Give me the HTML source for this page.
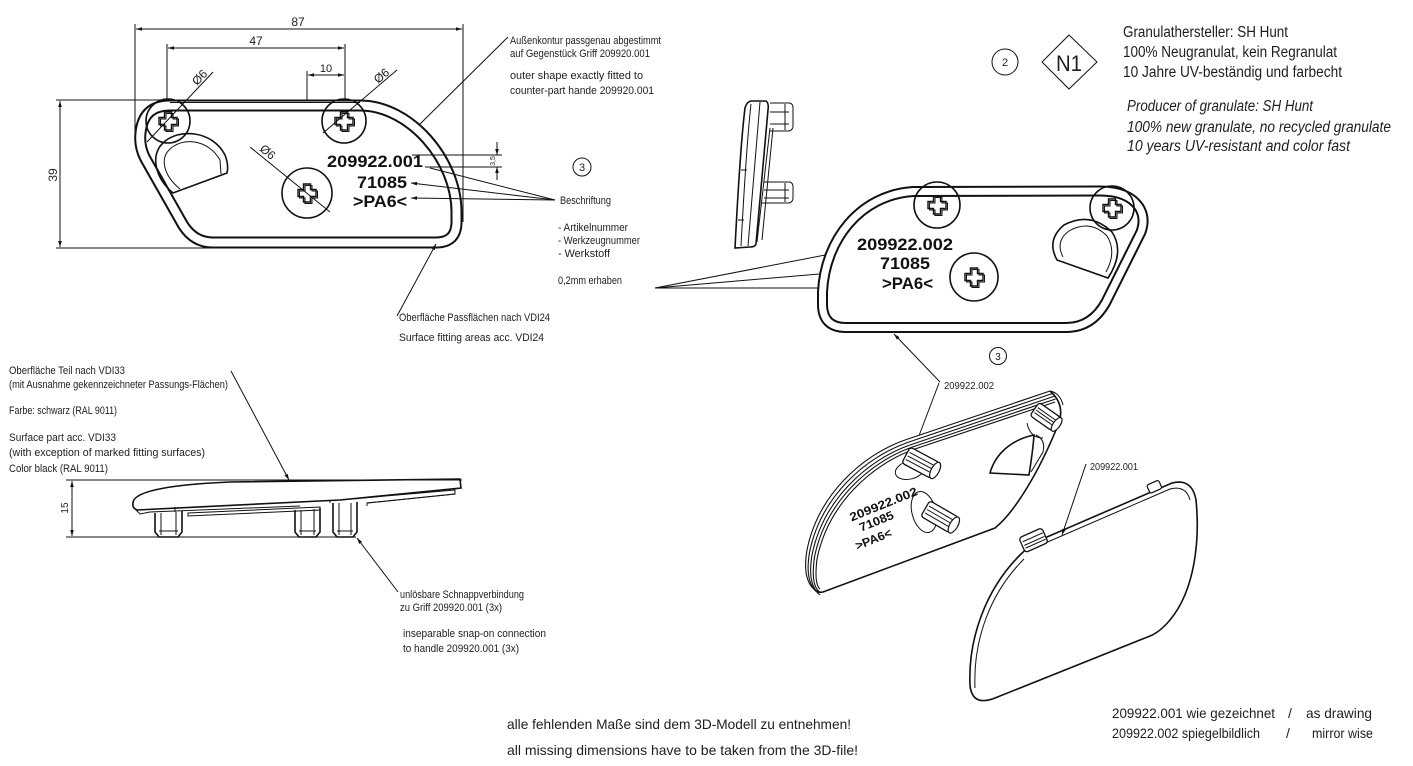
<!DOCTYPE html>
<html><head><meta charset="utf-8"><style>
html,body{margin:0;padding:0;background:#fff;}
svg{display:block;}
text{font-family:"Liberation Sans Narrow","Liberation Sans",sans-serif;fill:#1e1e1e;}
.b{font-weight:bold;fill:#111;}
.l{stroke:#111;stroke-width:1;fill:none;}
.t{stroke:#111;stroke-width:1.6;fill:none;}
</style></head><body>
<svg width="1413" height="766" viewBox="0 0 1413 766" xmlns="http://www.w3.org/2000/svg">
<defs>
<marker id="a" viewBox="0 0 10 10" refX="10" refY="5" markerWidth="9" markerHeight="6" orient="auto-start-reverse" markerUnits="userSpaceOnUse"><path d="M0,2 L10,5 L0,8 Z" fill="#111"/></marker>
<g id="cr" fill="none" stroke="#111" stroke-width="1.4">
<path d="M-3.5,-9H3.5V-3.5H9V3.5H3.5V9H-3.5V3.5H-9V-3.5H-3.5Z"/>
<path d="M-2,-7.5H5V-2H10.5V5H5V10.5H-2V5H-7.5V-2H-2Z" stroke-width="1"/>
</g>
</defs>

<!-- ========== LEFT TOP VIEW ========== -->
<g class="l">
<line x1="135" y1="24" x2="135" y2="140"/>
<line x1="463" y1="24" x2="463" y2="222"/>
<line x1="136" y1="29" x2="462" y2="29" marker-start="url(#a)" marker-end="url(#a)"/>
<line x1="167" y1="44" x2="167" y2="100"/>
<line x1="345" y1="44" x2="345" y2="112"/>
<line x1="168" y1="48" x2="344" y2="48" marker-start="url(#a)" marker-end="url(#a)"/>
<line x1="307" y1="71" x2="307" y2="218"/>
<line x1="308" y1="75" x2="344" y2="75" marker-start="url(#a)" marker-end="url(#a)"/>
<line x1="56" y1="100" x2="168" y2="100"/>
<line x1="56" y1="248" x2="212" y2="248"/>
<line x1="60" y1="101" x2="60" y2="247" marker-start="url(#a)" marker-end="url(#a)"/>
</g>
<text x="298" y="26" font-size="12" text-anchor="middle">87</text>
<text x="256" y="45" font-size="12" text-anchor="middle">47</text>
<text x="326" y="72" font-size="11" text-anchor="middle">10</text>
<text transform="translate(57,175) rotate(-90)" font-size="12" text-anchor="middle">39</text>

<path d="M170,105.5 L360,105.5 C410,105.5 456.5,160 456.5,212 L456.5,222 Q456.5,242.5 436,242.5 L213,242.5 Q194,242.5 183,225 L145,158 Q139,146 140.5,133 Q143,105.5 170,105.5 Z" fill="#fff" stroke="#111" stroke-width="12"/>
<path d="M170,105.5 L360,105.5 C410,105.5 456.5,160 456.5,212 L456.5,222 Q456.5,242.5 436,242.5 L213,242.5 Q194,242.5 183,225 L145,158 Q139,146 140.5,133 Q143,105.5 170,105.5 Z" fill="none" stroke="#fff" stroke-width="8"/>
<path d="M170,102.5 L360,102.5" class="l" stroke-width="0.8"/>

<path d="M173,193 C155,178 150,155 163,143 C178,128 212,130 225,155 Q229,165 227,173 Z" class="t" fill="#fff"/>
<path d="M180,189 C163,175 160,158 170,149 C183,137 208,139 220,160 L221,174" class="l"/>

<circle cx="168" cy="121" r="22" fill="#fff" class="t"/>
<circle cx="344" cy="121" r="22" fill="#fff" class="t"/>
<circle cx="307" cy="193" r="25" fill="#fff" class="t"/>
<use href="#cr" x="168" y="121"/>
<use href="#cr" x="344" y="121"/>
<use href="#cr" x="307" y="193"/>
<g class="l">
<line x1="147" y1="142" x2="213" y2="72"/>
<line x1="323" y1="133" x2="397" y2="70"/>
<line x1="250" y1="147" x2="330" y2="212"/>
</g>
<text transform="translate(197,86) rotate(-46)" font-size="12">Ø6</text>
<text transform="translate(378,84) rotate(-40)" font-size="12">Ø6</text>
<text transform="translate(259,150) rotate(40)" font-size="12">Ø6</text>

<text x="327" y="167" class="b" font-size="17" textLength="96" lengthAdjust="spacingAndGlyphs">209922.001</text>
<text x="357" y="188" class="b" font-size="17" textLength="50" lengthAdjust="spacingAndGlyphs">71085</text>
<text x="353" y="207" class="b" font-size="17" textLength="54" lengthAdjust="spacingAndGlyphs">&gt;PA6&lt;</text>

<g class="l">
<line x1="412" y1="155" x2="502" y2="155"/>
<line x1="425" y1="167" x2="502" y2="167"/>
<line x1="497" y1="142" x2="497" y2="155" marker-end="url(#a)"/>
<line x1="497" y1="180" x2="497" y2="167" marker-end="url(#a)"/>
</g>
<text transform="translate(495,161) rotate(-90)" font-size="7" text-anchor="middle">3,5</text>

<g class="l">
<line x1="420" y1="124" x2="508" y2="37"/>
<line x1="555" y1="200" x2="430" y2="168"/>
<line x1="555" y1="200" x2="411" y2="183" marker-end="url(#a)"/>
<line x1="555" y1="200" x2="411" y2="198" marker-end="url(#a)"/>
<line x1="397" y1="316" x2="436" y2="244" marker-end="url(#a)"/>
</g>
<text x="510" y="44" font-size="11" textLength="151" lengthAdjust="spacingAndGlyphs">Außenkontur passgenau abgestimmt</text>
<text x="510" y="57" font-size="11" textLength="140" lengthAdjust="spacingAndGlyphs">auf Gegenstück Griff 209920.001</text>
<text x="510" y="79" font-size="11" textLength="133" lengthAdjust="spacingAndGlyphs">outer shape exactly fitted to</text>
<text x="510" y="94" font-size="11" textLength="144" lengthAdjust="spacingAndGlyphs">counter-part hande 209920.001</text>

<circle cx="582" cy="167" r="9" class="l" stroke-width="1.2"/>
<text x="582" y="171" font-size="11" text-anchor="middle">3</text>
<text x="560" y="204" font-size="11" textLength="51" lengthAdjust="spacingAndGlyphs">Beschriftung</text>
<text x="558" y="231" font-size="11" textLength="70" lengthAdjust="spacingAndGlyphs">- Artikelnummer</text>
<text x="558" y="244" font-size="11" textLength="82" lengthAdjust="spacingAndGlyphs">- Werkzeugnummer</text>
<text x="558" y="257" font-size="11" textLength="52" lengthAdjust="spacingAndGlyphs">- Werkstoff</text>
<text x="558" y="284" font-size="11" textLength="64" lengthAdjust="spacingAndGlyphs">0,2mm erhaben</text>
<text x="399" y="321" font-size="11" textLength="151" lengthAdjust="spacingAndGlyphs">Oberfläche Passflächen nach VDI24</text>
<text x="399" y="341" font-size="11" textLength="145" lengthAdjust="spacingAndGlyphs">Surface fitting areas acc. VDI24</text>

<g class="l">
<line x1="655" y1="288" x2="851" y2="250"/>
<line x1="655" y1="288" x2="878" y2="269"/>
<line x1="655" y1="288" x2="874" y2="288"/>
</g>

<!-- ========== TOP RIGHT NOTES ========== -->
<circle cx="1005" cy="62" r="13" class="l" stroke-width="1.2"/>
<text x="1005" y="66" font-size="11" text-anchor="middle">2</text>
<path d="M1069,35 L1097,62 L1069,89 L1042,62 Z" class="l" stroke-width="1.3"/>
<text x="1069" y="71" font-size="22" text-anchor="middle" textLength="26" lengthAdjust="spacingAndGlyphs">N1</text>
<text x="1123" y="37" font-size="15.5" textLength="165" lengthAdjust="spacingAndGlyphs">Granulathersteller: SH Hunt</text>
<text x="1123" y="57" font-size="15.5" textLength="214" lengthAdjust="spacingAndGlyphs">100% Neugranulat, kein Regranulat</text>
<text x="1123" y="77" font-size="15.5" textLength="219" lengthAdjust="spacingAndGlyphs">10 Jahre UV-beständig und farbecht</text>
<text x="1127" y="111" font-size="15.5" font-style="italic" textLength="186" lengthAdjust="spacingAndGlyphs">Producer of granulate: SH Hunt</text>
<text x="1127" y="132" font-size="15.5" font-style="italic" textLength="264" lengthAdjust="spacingAndGlyphs">100% new granulate, no recycled granulate</text>
<text x="1127" y="151" font-size="15.5" font-style="italic" textLength="223" lengthAdjust="spacingAndGlyphs">10 years UV-resistant and color fast</text>

<!-- ========== SMALL SIDE PART ========== -->
<g class="t" stroke-width="1.4">
<path d="M735,248 C738,190 741,140 745,108 Q747,101 752,101 L766,101 Q769,103 768,110 L756,244 Q755,247 750,247 Z" fill="#fff"/>
</g>
<g class="l">
<path d="M741,246 C744,190 747,140 751,104"/>
<path d="M748,246 L760,102"/>
<path d="M757,242 L770,128"/>
<path d="M762,240 L773,128"/>
<path d="M770,103 H790 Q793,104 793,108 V127 Q792,131 788,131 H770"/>
<path d="M770,112 H789 M770,124 H789 M785,104 V130"/>
<path d="M764,182 H790 Q793,183 793,187 V199 Q792,203 788,203 H762"/>
<path d="M764,190 H789 M764,198 H789 M785,183 V202"/>
<path d="M741,170 L747,170 M738,220 L744,220"/>
</g>

<!-- ========== RIGHT TOP VIEW ========== -->
<path d="M913,191.5 L1100,191 Q1128,191 1139,207 Q1146,218 1141,232 L1106,302 Q1092,327.5 1066,327.5 L846,327.5 Q823,327.5 822.5,305 L822.5,292 C825,240 860,195 913,191.5 Z" fill="#fff" stroke="#111" stroke-width="11"/>
<path d="M913,191.5 L1100,191 Q1128,191 1139,207 Q1146,218 1141,232 L1106,302 Q1092,327.5 1066,327.5 L846,327.5 Q823,327.5 822.5,305 L822.5,292 C825,240 860,195 913,191.5 Z" fill="none" stroke="#fff" stroke-width="7"/>
<path d="M1057,260 Q1046,240 1064,225 Q1090,211 1112,232 Q1125,252 1108,278 Z" class="t" fill="#fff"/>
<path d="M1063,257 Q1055,241 1069,231 Q1090,219 1107,236 Q1117,252 1106,272" class="l"/>
<circle cx="937" cy="205" r="23" fill="#fff" class="t"/>
<circle cx="1112" cy="208" r="22" fill="#fff" class="t"/>
<circle cx="974" cy="277" r="24" fill="#fff" class="t"/>
<use href="#cr" x="937" y="205"/>
<use href="#cr" x="1112" y="208"/>
<use href="#cr" x="974" y="277"/>
<text x="857" y="250" class="b" font-size="17" textLength="96" lengthAdjust="spacingAndGlyphs">209922.002</text>
<text x="880" y="269" class="b" font-size="17" textLength="50" lengthAdjust="spacingAndGlyphs">71085</text>
<text x="882" y="289" class="b" font-size="17" textLength="51" lengthAdjust="spacingAndGlyphs">&gt;PA6&lt;</text>

<g class="l">
<line x1="940" y1="382" x2="894" y2="334" marker-end="url(#a)"/>
<line x1="939" y1="383" x2="917" y2="441"/>
</g>
<text x="944" y="389" font-size="10" textLength="50" lengthAdjust="spacingAndGlyphs">209922.002</text>
<circle cx="998" cy="356" r="8.5" class="l" stroke-width="1.2"/>
<text x="998" y="360" font-size="10" text-anchor="middle">3</text>

<!-- ========== LOWER 3D .002 ========== -->
<path d="M1050,391 L905,440 C862,455 818,495 807,550 Q802,580 815,590 L823,592 L995,528 C1015,512 1040,470 1058,425 Q1066,405 1050,391 Z" fill="#fff" stroke="none"/>
<g fill="none" stroke="#111" stroke-width="1.1">
<path d="M1050,391 L905,440 C862,455 818,495 807,550 Q802,580 815,590"/>
<path transform="translate(2.5,2.5)" d="M1050,391 L905,440 C862,455 818,495 807,550 Q802,580 815,590"/>
<path transform="translate(5,5)" d="M1050,391 L905,440 C862,455 818,495 807,550 Q802,580 815,590"/>
<path transform="translate(7.5,7)" d="M1048,392 L905,440 C862,455 818,495 807,550 Q803,578 812,585"/>
<path transform="translate(10,9)" d="M1045,393 L905,440 C862,455 818,495 807,550 Q804,575 810,580"/>
</g>
<path d="M815,590 Q818,593 823,592 L995,528 C1015,512 1040,470 1058,425 Q1066,405 1050,391" class="t"/>
<path d="M1050,391 Q1060,393 1063,405" class="l"/>
<path d="M990,473 C995,455 1010,440 1034,435 C1033,450 1031,462 1029,475 Z" class="t" fill="#fff"/>
<path d="M1036,435 Q1046,440 1043,452 L1031,472" class="l"/>
<ellipse cx="910" cy="470" rx="15" ry="9" transform="rotate(-15 910 470)" class="l" fill="#fff"/>
<g transform="translate(921,463) rotate(28)">
<rect x="-17" y="-9" width="33" height="18" rx="3" fill="#fff" stroke="#111" stroke-width="1.3"/>
<path d="M-15,-4 H14 M-15,0 H14 M-15,4 H14" class="l" stroke-width="0.8"/>
<ellipse cx="16" cy="0" rx="4" ry="9" fill="#fff" stroke="#111" stroke-width="1.2"/>
</g>
<ellipse cx="924" cy="512" rx="12" ry="21" transform="rotate(-15 924 512)" class="l" fill="#fff"/>
<g transform="translate(940,517) rotate(30)">
<rect x="-17" y="-9" width="33" height="18" rx="3" fill="#fff" stroke="#111" stroke-width="1.3"/>
<path d="M-15,-4 H14 M-15,0 H14 M-15,4 H14" class="l" stroke-width="0.8"/>
<ellipse cx="16" cy="0" rx="4" ry="9" fill="#fff" stroke="#111" stroke-width="1.2"/>
</g>
<path d="M1027,423 Q1030,438 1043,438" class="l"/>
<g transform="translate(1046,417) rotate(35)">
<rect x="-14" y="-8" width="27" height="16" rx="3" fill="#fff" stroke="#111" stroke-width="1.3"/>
<path d="M-12,-3 H11 M-12,0 H11 M-12,3 H11" class="l" stroke-width="0.8"/>
<ellipse cx="13" cy="0" rx="3.5" ry="8" fill="#fff" stroke="#111" stroke-width="1.2"/>
</g>
<text transform="translate(885,508) rotate(-22)" class="b" font-size="12" text-anchor="middle" textLength="72" lengthAdjust="spacingAndGlyphs">209922.002</text>
<text transform="translate(878,525) rotate(-22)" class="b" font-size="12" text-anchor="middle" textLength="36" lengthAdjust="spacingAndGlyphs">71085</text>
<text transform="translate(875,543) rotate(-22)" class="b" font-size="12" text-anchor="middle" textLength="38" lengthAdjust="spacingAndGlyphs">&gt;PA6&lt;</text>

<!-- ========== LOWER 3D .001 cover ========== -->
<path d="M1040,540 L1172,483 Q1192,478 1196,500 C1200,540 1195,590 1170,620 Q1160,632 1150,636 L995,698 Q972,707 970,685 C968,640 985,590 1020,555 Q1030,545 1040,540 Z" fill="#fff" class="t"/>
<path d="M1043,544 L1170,489 Q1186,485 1190,500" class="l"/>
<path d="M975,688 C973,640 990,593 1024,559" class="l"/>
<g transform="translate(1034,540) rotate(-24)">
<rect x="-13" y="-8" width="25" height="16" rx="3" fill="#fff" stroke="#111" stroke-width="1.3"/>
<path d="M-11,-3 H11 M-11,1 H11 M-11,4 H11" class="l" stroke-width="0.8"/>
</g>
<g transform="translate(1155,487) rotate(-24)">
<rect x="-7" y="-5" width="13" height="9" rx="2" fill="#fff" stroke="#111" stroke-width="1.2"/>
</g>
<line x1="1086" y1="464" x2="1062" y2="535" class="l" marker-end="url(#a)"/>
<text x="1090" y="470" font-size="10" textLength="48" lengthAdjust="spacingAndGlyphs">209922.001</text>

<!-- ========== SIDE VIEW ========== -->
<g class="l">
<line x1="66" y1="480" x2="462" y2="480"/>
<line x1="66" y1="537" x2="356" y2="537"/>
<line x1="72" y1="481" x2="72" y2="536" marker-start="url(#a)" marker-end="url(#a)"/>
</g>
<text transform="translate(68,508) rotate(-90)" font-size="10" text-anchor="middle">15</text>
<path d="M133,503 C133,493 160,485 230,482 L460,479 L461,488 L340,500 L137,510 Q132,508 133,503 Z" fill="#fff" class="t" stroke-width="1.4"/>
<g class="l">
<path d="M136,510 L140,514 L150,512 L300,506"/>
<path d="M188,513 L320,507 L320,510 L188,516 Z"/>
<path d="M340,500 L455,490 L455,494 L367,503 L367,506"/>
<path d="M367,503 L455,494"/>
<path d="M330,500 L330,503 M175,507 L175,512"/>
</g>
<g class="t" stroke-width="1.3" fill="#fff">
<path d="M155,513 V532 L159,537 H178 L182,532 V511"/>
<path d="M295,510 V532 L299,537 H316 L320,532 V508"/>
<path d="M333,503 V532 L337,537 H353 L357,532 V502"/>
</g>
<g class="l" stroke-width="0.9">
<path d="M161,513 V535 M176,512 V535 M159,531 H178"/>
<path d="M301,510 V535 M314,509 V535 M299,531 H316"/>
<path d="M339,503 V535 M351,503 V535 M337,531 H353"/>
</g>
<line x1="231" y1="371" x2="289" y2="480" class="l" marker-end="url(#a)"/>
<line x1="398" y1="592" x2="357" y2="538" class="l" marker-end="url(#a)"/>

<text x="9" y="374" font-size="11" textLength="116" lengthAdjust="spacingAndGlyphs">Oberfläche Teil nach VDI33</text>
<text x="9" y="388" font-size="11" textLength="219" lengthAdjust="spacingAndGlyphs">(mit Ausnahme gekennzeichneter Passungs-Flächen)</text>
<text x="9" y="414" font-size="11" textLength="108" lengthAdjust="spacingAndGlyphs">Farbe: schwarz (RAL 9011)</text>
<text x="9" y="441" font-size="11" textLength="107" lengthAdjust="spacingAndGlyphs">Surface part acc. VDI33</text>
<text x="9" y="456" font-size="11" textLength="196" lengthAdjust="spacingAndGlyphs">(with exception of marked fitting surfaces)</text>
<text x="9" y="472" font-size="11" textLength="99" lengthAdjust="spacingAndGlyphs">Color black (RAL 9011)</text>

<text x="400" y="598" font-size="11" textLength="124" lengthAdjust="spacingAndGlyphs">unlösbare Schnappverbindung</text>
<text x="400" y="611" font-size="11" textLength="102" lengthAdjust="spacingAndGlyphs">zu Griff 209920.001 (3x)</text>
<text x="403" y="637" font-size="11" textLength="143" lengthAdjust="spacingAndGlyphs">inseparable snap-on connection</text>
<text x="403" y="652" font-size="11" textLength="116" lengthAdjust="spacingAndGlyphs">to handle 209920.001 (3x)</text>

<!-- ========== BOTTOM NOTES ========== -->
<text x="507" y="729" font-size="14" textLength="344" lengthAdjust="spacingAndGlyphs">alle fehlenden Maße sind dem 3D-Modell zu entnehmen!</text>
<text x="507" y="755" font-size="14" textLength="351" lengthAdjust="spacingAndGlyphs">all missing dimensions have to be taken from the 3D-file!</text>
<text x="1112" y="718" font-size="14" textLength="163" lengthAdjust="spacingAndGlyphs">209922.001 wie gezeichnet</text>
<text x="1288" y="718" font-size="14">/</text>
<text x="1306" y="718" font-size="14" textLength="66" lengthAdjust="spacingAndGlyphs">as drawing</text>
<text x="1112" y="738" font-size="14" textLength="148" lengthAdjust="spacingAndGlyphs">209922.002 spiegelbildlich</text>
<text x="1286" y="738" font-size="14">/</text>
<text x="1312" y="738" font-size="14" textLength="61" lengthAdjust="spacingAndGlyphs">mirror wise</text>
</svg>
</body></html>
